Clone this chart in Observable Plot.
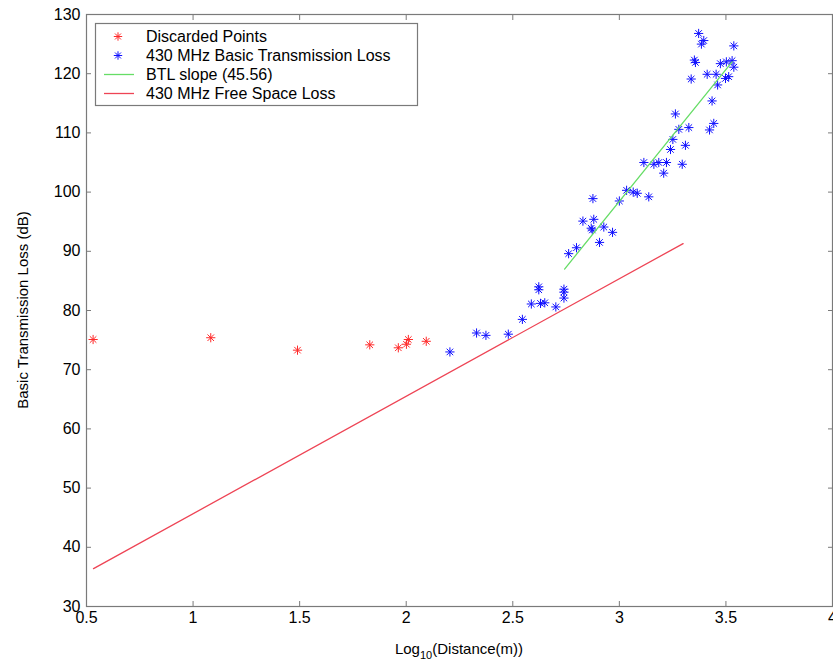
<!DOCTYPE html>
<html><head><meta charset="utf-8">
<script src="https://cdn.jsdelivr.net/npm/d3@7"></script>
<script src="https://cdn.jsdelivr.net/npm/@observablehq/plot@0.6"></script>
<style>body{margin:0;background:#fff} svg{display:block}</style>
</head><body><div id="chart"></div>
<script>
// ---- data ----
const discardedX = [0.531, 1.083, 1.490, 1.829, 1.963, 2.001, 2.010, 2.094];
const discardedY = [75.1, 75.4, 73.3, 74.2, 73.7, 74.3, 75.1, 74.8];

const btlX = [3.372, 3.396, 3.385, 3.537, 3.352, 3.357, 3.474, 3.502, 3.529, 3.537,
              3.337, 3.412, 3.454, 3.498, 3.513, 3.461, 3.435, 3.263, 3.279, 3.326,
              3.443, 3.423, 3.251, 3.310, 3.240, 3.115, 3.162, 3.185, 3.221, 3.295,
              3.208, 3.034, 3.065, 3.084, 3.138, 2.876, 3.000, 2.829, 2.880, 2.868,
              2.873, 2.927, 2.968, 2.907, 2.799, 2.762, 2.622, 2.622, 2.740, 2.740,
              2.740, 2.587, 2.630, 2.650, 2.702, 2.545, 2.330, 2.374, 2.479, 2.205];
const btlY = [126.8, 125.6, 125.0, 124.7, 122.3, 121.9, 121.7, 122.0, 122.2, 121.1,
              119.1, 119.9, 119.9, 119.2, 119.5, 118.1, 115.4, 113.2, 110.6, 110.9,
              111.6, 110.5, 108.9, 107.9, 107.2, 105.0, 104.7, 105.0, 105.0, 104.7,
              103.2, 100.3, 100.0, 99.8, 99.2, 98.9, 98.5, 95.1, 95.4, 93.9,
              93.6, 94.1, 93.2, 91.5, 90.6, 89.6, 84.0, 83.5, 83.6, 83.1,
              82.1, 81.1, 81.2, 81.3, 80.6, 78.5, 76.2, 75.8, 76.0, 73.0];

const slopeX = [2.743, 3.529];
const slopeY = [87.0, 122.0];

const fslX = [0.533, 3.299];
const fslY = [36.4, 91.3];

const xTicks = [0.5, 1, 1.5, 2, 2.5, 3, 3.5, 4];
const yTicks = [30, 40, 50, 60, 70, 80, 90, 100, 110, 120, 130];

const seriesNames = ["Discarded Points", "430 MHz Basic Transmission Loss",
                     "BTL slope (45.56)", "430 MHz Free Space Loss"];
const xTitle = ["Log", "10", "(Distance(m))"];
const yTitle = "Basic Transmission Loss (dB)";

// ---- styles ----
const FONT = "'Liberation Sans', Arial, Helvetica, sans-serif";
const AXIS = "#7a7a7a";
const RED_PT = "#ff2a2a", BLUE_PT = "#1010ff";
const RED_LN = "#ee4455", GREEN_LN = "#66dd66";

// MATLAB-style '*' marker: plus + cross
const asterisk = {
  draw(ctx, size) {
    const r = Math.sqrt(size / Math.PI);
    const d = r * Math.SQRT1_2;
    ctx.moveTo(-r, 0); ctx.lineTo(r, 0);
    ctx.moveTo(0, -r); ctx.lineTo(0, r);
    ctx.moveTo(-d, -d); ctx.lineTo(d, d);
    ctx.moveTo(-d, d); ctx.lineTo(d, -d);
  }
};

const plot = Plot.plot({
  width: 833,
  height: 666,
  marginLeft: 86,
  marginRight: 1,
  marginTop: 14,
  marginBottom: 60,
  style: {fontFamily: FONT, fontSize: "16px", background: "#fff", color: "#000"},
  x: {domain: [0.5, 4], label: null},
  y: {domain: [30, 130], label: null},
  marks: [
    Plot.frame({stroke: AXIS, strokeWidth: 1.2}),
    Plot.axisX(xTicks, {anchor: "bottom", tickSize: -5, tickPadding: 10, stroke: AXIS, fill: "#000", label: null, tickFormat: d => String(d)}),
    Plot.axisX(xTicks, {anchor: "top", tickSize: -5, stroke: AXIS, label: null, tickFormat: () => ""}),
    Plot.axisY(yTicks, {anchor: "left", tickSize: -5, tickPadding: 11, stroke: AXIS, fill: "#000", label: null, tickFormat: d => String(d)}),
    Plot.axisY(yTicks, {anchor: "right", tickSize: -5, stroke: AXIS, label: null, tickFormat: () => ""}),
    Plot.dot(discardedX, {x: discardedX, y: discardedY, symbol: asterisk, r: 4.6, stroke: RED_PT, fill: "none", strokeWidth: 1}),
    Plot.dot(btlX, {x: btlX, y: btlY, symbol: asterisk, r: 4.6, stroke: BLUE_PT, fill: "none", strokeWidth: 1}),
    Plot.line(slopeX, {x: slopeX, y: slopeY, stroke: GREEN_LN, strokeWidth: 1.3}),
    Plot.line(fslX, {x: fslX, y: fslY, stroke: RED_LN, strokeWidth: 1.3})
  ]
});

document.getElementById("chart").appendChild(plot);

// ---- axis titles & legend ----
const svg = d3.select(plot);

const xt = svg.append("text")
  .attr("x", 459).attr("y", 654)
  .attr("text-anchor", "middle")
  .attr("font-family", FONT).attr("font-size", 15).attr("fill", "#000");
xt.append("tspan").text(xTitle[0]);
xt.append("tspan").attr("font-size", 11).attr("dy", 5).text(xTitle[1]);
xt.append("tspan").attr("dy", -5).text(xTitle[2]);

svg.append("text")
  .attr("transform", "translate(22,310) rotate(-90)")
  .attr("text-anchor", "middle")
  .attr("dominant-baseline", "central")
  .attr("font-family", FONT).attr("font-size", 15).attr("fill", "#000")
  .text(yTitle);

const lg = svg.append("g")
  .attr("font-family", FONT).attr("font-size", 16).attr("text-anchor", "start");
lg.append("rect")
  .attr("x", 95.5).attr("y", 23.5).attr("width", 322).attr("height", 82)
  .attr("fill", "#fff").attr("stroke", AXIS).attr("stroke-width", 1.2);
const rowsY = [36.5, 55.5, 74.5, 93.5];
const symPath = d3.symbol(asterisk, Math.PI * 4.2 * 4.2)();
[[0, RED_PT], [1, BLUE_PT]].forEach(([i, c]) => {
  lg.append("path").attr("d", symPath)
    .attr("transform", `translate(118,${rowsY[i]})`)
    .attr("fill", "none").attr("stroke", c).attr("stroke-width", 1);
});
[[2, GREEN_LN], [3, RED_LN]].forEach(([i, c]) => {
  lg.append("line").attr("x1", 104).attr("x2", 134)
    .attr("y1", rowsY[i]).attr("y2", rowsY[i])
    .attr("stroke", c).attr("stroke-width", 1.3);
});
seriesNames.forEach((name, i) => {
  lg.append("text").attr("x", 146).attr("y", rowsY[i])
    .attr("text-anchor", "start")
    .attr("dominant-baseline", "central").attr("fill", "#000").text(name);
});
</script>
</body></html>
